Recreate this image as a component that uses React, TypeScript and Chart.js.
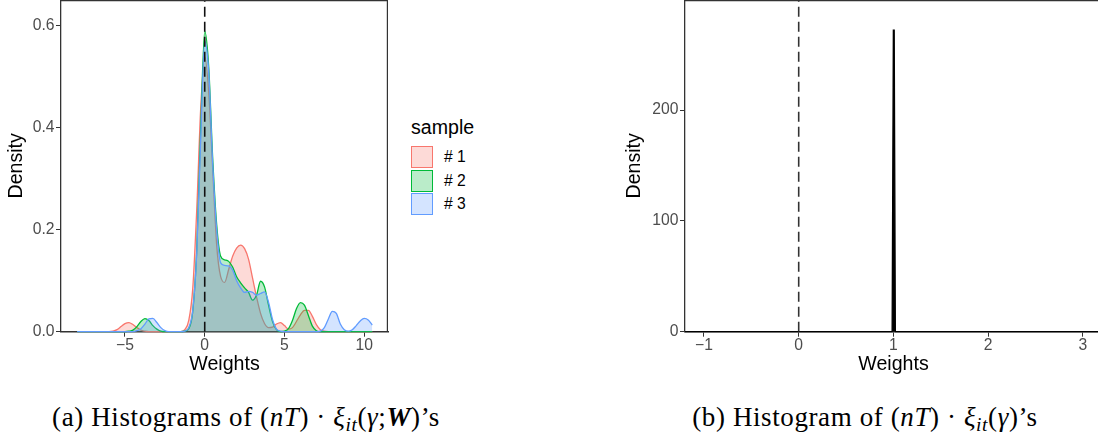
import React, { useEffect, useRef } from "react";
import { Chart, registerables } from "chart.js";
Chart.register(...registerables);

const FONT = "'Liberation Sans', Arial, sans-serif";

// Panel (a): density grid and the three samples
const xGrid = [
  -8, -7.75, -7.5, -7.25, -7, -6.75, -6.5, -6.25, -6, -5.75, -5.5, -5.25, -5, -4.75, -4.5, -4.25,
  -4, -3.75, -3.5, -3.25, -3, -2.75, -2.5, -2.25, -2, -1.75, -1.5, -1.25, -1, -0.75, -0.5, -0.25,
  0, 0.25, 0.5, 0.75, 1, 1.25, 1.5, 1.75, 2, 2.25, 2.5, 2.75, 3, 3.25, 3.5, 3.75,
  4, 4.25, 4.5, 4.75, 5, 5.25, 5.5, 5.75, 6, 6.25, 6.5, 6.75, 7, 7.25, 7.5, 7.75,
  8, 8.25, 8.5, 8.75, 9, 9.25, 9.5, 9.75, 10, 10.25, 10.5,
];

const sample1 = [
  0, 0, 0, 0, 0, 0, 0, 0, 0,
  0.001, 0.004, 0.010, 0.016, 0.018, 0.014, 0.008, 0.003, 0.001,
  0, 0, 0, 0, 0, 0, 0, 0, 0,
  0.004, 0.022, 0.085, 0.24, 0.44, 0.54, 0.47, 0.32, 0.17, 0.108,
  0.097, 0.122, 0.148, 0.164, 0.170, 0.163, 0.142, 0.105, 0.068, 0.036,
  0.016, 0.008, 0.009, 0.015, 0.018, 0.012, 0.005, 0.008, 0.02, 0.033,
  0.042, 0.042, 0.03, 0.014, 0.004, 0.001,
  0, 0, 0, 0, 0, 0, 0, 0, 0, 0, 0, 0,
];

const sample2 = [
  0, 0, 0, 0, 0, 0, 0, 0, 0, 0, 0, 0, 0,
  0.001, 0.003, 0.010, 0.020, 0.0256, 0.022, 0.012, 0.005, 0.001,
  0, 0, 0, 0, 0,
  0.001, 0.006, 0.04, 0.16, 0.40, 0.59, 0.52, 0.34, 0.21, 0.148,
  0.141, 0.138, 0.127, 0.108, 0.096, 0.086, 0.077, 0.062, 0.072, 0.099,
  0.088, 0.052, 0.02, 0.004, 0, 0.001, 0.006, 0.022, 0.045, 0.057,
  0.052, 0.032, 0.011, 0.002,
  0, 0, 0, 0, 0, 0, 0, 0, 0, 0, 0, 0, 0, 0,
];

const sample3 = [
  0, 0, 0, 0, 0, 0, 0, 0, 0, 0, 0, 0, 0, 0, 0,
  0.002, 0.006, 0.015, 0.025, 0.026, 0.018, 0.008, 0.002,
  0, 0, 0, 0,
  0.001, 0.008, 0.042, 0.155, 0.38, 0.57, 0.51, 0.33, 0.20, 0.135,
  0.13, 0.129, 0.121, 0.10, 0.086, 0.077, 0.079, 0.077, 0.072, 0.075,
  0.078, 0.058, 0.024, 0.005, 0.001,
  0, 0, 0, 0, 0, 0, 0, 0, 0,
  0.001, 0.008, 0.025, 0.040, 0.036, 0.015, 0.004, 0.001, 0.004, 0.012,
  0.021, 0.026, 0.023, 0.013,
];

const sampleNames = ["# 1", "# 2", "# 3"];
const sampleColors = ["#F8766D", "#00BA38", "#619CFF"];
const sampleFills = ["rgba(248,118,109,0.27)", "rgba(0,186,56,0.27)", "rgba(97,156,255,0.27)"];

const xTicksA = [-5, 0, 5, 10];
const yTicksA = [0, 0.2, 0.4, 0.6];

// Panel (b): single density spike
const xB = [-1.2, 0.986, 0.999, 1.008, 1.02, 3.2];
const yB = [0, 0, 272, 272, 0, 0];
const xTicksB = [-1, 0, 1, 2, 3];
const yTicksB = [0, 100, 200];

const boxPlugin = {
  id: "panelBox",
  afterDraw(chart: any) {
    const { ctx, chartArea } = chart;
    const { left, top, right, bottom } = chartArea;
    ctx.save();
    ctx.strokeStyle = "#333333";
    ctx.lineWidth = 1.2;
    ctx.beginPath();
    ctx.moveTo(left, top + 0.6);
    ctx.lineTo(right - 0.6, top + 0.6);
    ctx.lineTo(right - 0.6, bottom);
    ctx.stroke();
    ctx.restore();
  },
};

const minus = (v: number) => (v < 0 ? "\u2212" + Math.abs(v) : String(v));

function makeScales(opts: {
  xmin: number; xmax: number; ymin: number; ymax: number;
  xticks: number[]; yticks: number[]; yfmt: (v: number) => string;
  yWidth: number; xHeight: number; yTitlePad: number;
}) {
  return {
    x: {
      type: "linear",
      min: opts.xmin,
      max: opts.xmax,
      afterBuildTicks: (s: any) => { s.ticks = opts.xticks.map((v) => ({ value: v })); },
      afterFit: (s: any) => {
        s.height = opts.xHeight;
        s.paddingLeft = 0; s.paddingRight = 0; s.paddingTop = 0; s.paddingBottom = 0;
      },
      grid: { display: true, drawOnChartArea: false, drawTicks: true, tickLength: 5, color: "#333333", lineWidth: 1 },
      border: { display: true, color: "#333333", width: 1.5 },
      ticks: { color: "#4D4D4D", font: { family: FONT, size: 15.7 }, padding: 0, maxRotation: 0, autoSkip: false, callback: (v: any) => minus(Number(v)) },
      title: { display: true, text: "Weights", color: "#000000", font: { family: FONT, size: 19.6 }, padding: { top: 0, bottom: 3.2 } },
    },
    y: {
      type: "linear",
      min: opts.ymin,
      max: opts.ymax,
      afterBuildTicks: (s: any) => { s.ticks = opts.yticks.map((v) => ({ value: v })); },
      afterFit: (s: any) => {
        s.width = opts.yWidth;
        s.paddingLeft = 0; s.paddingRight = 0; s.paddingTop = 0; s.paddingBottom = 0;
      },
      grid: { display: true, drawOnChartArea: false, drawTicks: true, tickLength: 5, color: "#333333", lineWidth: 1 },
      border: { display: true, color: "#333333", width: 1.3 },
      ticks: { color: "#4D4D4D", font: { family: FONT, size: 15.7 }, padding: 1.5, autoSkip: false, callback: (v: any) => opts.yfmt(Number(v)) },
      title: { display: true, text: "Density", color: "#000000", font: { family: FONT, size: 19.6 }, padding: { top: opts.yTitlePad, bottom: 0 } },
    },
  };
}

export default function App() {
  const leftRef = useRef<HTMLCanvasElement>(null);
  const rightRef = useRef<HTMLCanvasElement>(null);

  useEffect(() => {
    const Y_MAX_A = 0.651;
    const Y_MAX_B = 299.3;
    const series = [sample1, sample2, sample3];
    const dsA: any[] = series.map((ys, i) => ({
      label: sampleNames[i],
      data: xGrid.map((x, j) => ({ x, y: ys[j] })),
      borderColor: sampleColors[i],
      backgroundColor: sampleFills[i],
      borderWidth: 1.3,
      fill: "origin",
      pointRadius: 0,
      cubicInterpolationMode: "monotone",
      tension: 0.4,
      order: 3 - i,
      clip: false,
    }));
    dsA.push({
      label: "zero",
      data: [{ x: 0, y: 0 }, { x: 0, y: Y_MAX_A }],
      borderColor: "#111111",
      borderWidth: 1.6,
      borderDash: [10, 5],
      pointRadius: 0,
      fill: false,
      order: 0,
    });

    const c1 = new Chart(leftRef.current as HTMLCanvasElement, {
      type: "line",
      data: { datasets: dsA },
      options: {
        animation: false,
        responsive: false,
        layout: { padding: { top: 0, left: 0, right: 12, bottom: 0 } },
        plugins: { legend: { display: false }, tooltip: { enabled: false } },
        scales: makeScales({
          xmin: -9.01, xmax: 11.49, ymin: 0, ymax: Y_MAX_A,
          xticks: xTicksA, yticks: yTicksA, yfmt: (v) => v.toFixed(1),
          yWidth: 61, xHeight: 48.3, yTitlePad: 5.2,
        }) as any,
      },
      plugins: [boxPlugin],
    });

    const c2 = new Chart(rightRef.current as HTMLCanvasElement, {
      type: "line",
      data: {
        datasets: [
          {
            label: "density",
            data: xB.map((x, j) => ({ x, y: yB[j] })),
            borderColor: "#000000",
            backgroundColor: "#000000",
            borderWidth: 1.3,
            fill: "origin",
            pointRadius: 0,
            tension: 0,
            order: 1,
            clip: false,
          } as any,
          {
            label: "zero",
            data: [{ x: 0, y: 0 }, { x: 0, y: Y_MAX_B }],
            borderColor: "#333333",
            borderWidth: 1.6,
            borderDash: [10, 5],
            pointRadius: 0,
            fill: false,
            order: 0,
          },
        ],
      },
      options: {
        animation: false,
        responsive: false,
        layout: { padding: { top: 0, left: 0, right: 0, bottom: 0 } },
        plugins: { legend: { display: false }, tooltip: { enabled: false } },
        scales: makeScales({
          xmin: -1.2, xmax: 3.201, ymin: 0, ymax: Y_MAX_B,
          xticks: xTicksB, yticks: yTicksB, yfmt: (v) => String(v),
          yWidth: 85, xHeight: 48.3, yTitlePad: 23.2,
        }) as any,
      },
      plugins: [boxPlugin],
    });

    return () => {
      c1.destroy();
      c2.destroy();
    };
  }, []);

  const serif = "'Liberation Serif', 'Times New Roman', serif";
  const it = { fontStyle: "italic" as const };
  const sub = { fontStyle: "italic" as const, fontSize: "0.72em", verticalAlign: "-0.28em" };
  const capStyle = {
    position: "absolute" as const, width: 560, top: 400, height: 34, lineHeight: "34px", textAlign: "center" as const,
    fontFamily: serif, fontSize: 27, letterSpacing: "0.6px", color: "#000", whiteSpace: "nowrap" as const,
  };

  return (
    <div style={{ position: "absolute", left: 0, top: 0, width: 1098, height: 436, overflow: "hidden", background: "#ffffff" }}>
      <div style={{ position: "absolute", left: 0, top: 0 }}>
        <canvas ref={leftRef} width={400} height={380} style={{ display: "block" }} />
      </div>
      <div style={{ position: "absolute", left: 600, top: 0 }}>
        <canvas ref={rightRef} width={502} height={380} style={{ display: "block" }} />
      </div>

      {/* legend */}
      <div style={{ position: "absolute", left: 411, top: 116.7, fontFamily: FONT, fontSize: 19.6, lineHeight: "20px", color: "#000" }}>sample</div>
      {sampleNames.map((n, i) => (
        <React.Fragment key={n}>
          <div
            style={{
              position: "absolute", left: 411, top: 146 + i * 23.6, width: 22, height: 22, boxSizing: "border-box",
              border: "1.4px solid " + sampleColors[i], background: sampleFills[i],
            }}
          />
          <div style={{ position: "absolute", left: 444, top: 146 + i * 23.6, height: 22, lineHeight: "22px", fontFamily: FONT, fontSize: 15.7, color: "#000" }}>{n}</div>
        </React.Fragment>
      ))}

      {/* captions */}
      <div style={{ ...capStyle, left: 246 - 280 }}>
        (a) Histograms of (<span style={it}>nT</span>) · <span style={it}>ξ</span><span style={sub}>it</span>(<span style={it}>γ</span>;<span style={{ fontWeight: "bold", fontStyle: "italic" }}>W</span>)’s
      </div>
      <div style={{ ...capStyle, left: 865 - 280 }}>
        (b) Histogram of (<span style={it}>nT</span>) · <span style={it}>ξ</span><span style={sub}>it</span>(<span style={it}>γ</span>)’s
      </div>
    </div>
  );
}
